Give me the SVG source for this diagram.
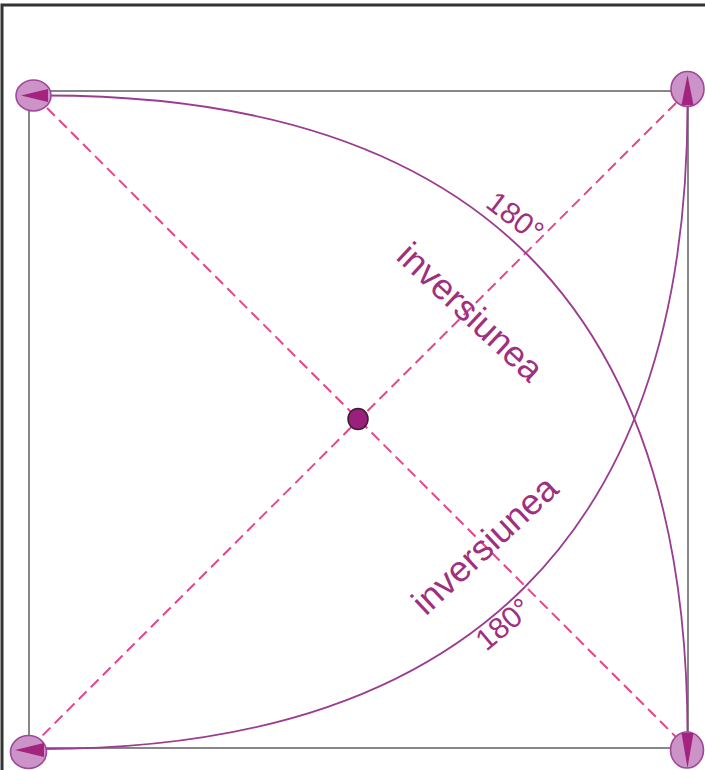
<svg xmlns="http://www.w3.org/2000/svg" width="705" height="770" viewBox="0 0 705 770">
<style>
.frame{fill:none;stroke:#333;stroke-width:3}
.sq{fill:none;stroke:#6a6a6a;stroke-width:1.6}
.dash{fill:none;stroke:#e2478a;stroke-width:2;stroke-dasharray:11 6}
.arc{fill:none;stroke:#9a3c8f;stroke-width:1.8}
.cir{fill:#cc93c8;stroke:#a0479a;stroke-width:1.6}
.tri{fill:#a4237f}
.lbl{font-family:"Liberation Sans",Arial,sans-serif;fill:#a0307f;text-anchor:middle}
</style>
<rect width="705" height="770" fill="#fff"/>
<path class="frame" d="M2,770 L2,5 L705,5"/>
<rect class="sq" x="29" y="91" width="659" height="657"/>
<g id="connectors">
<line class="dash" x1="47" y1="108" x2="676" y2="737"/>
<line class="dash" x1="676" y1="103" x2="41" y2="737"/>
<path class="arc" d="M46,95.5 C476,95.5 687.5,308 687.5,736"/>
<path class="arc" d="M42,749 C469,749 687.5,532 687.5,104"/>
</g>
<g id="corner-tl"><ellipse class="cir" cx="33.5" cy="95.5" rx="17.5" ry="15.5"/><polygon class="tri" points="21,95.5 48,89 48,102"/></g>
<g id="corner-tr"><ellipse class="cir" cx="687.5" cy="89" rx="16.5" ry="17.5"/><polygon class="tri" points="687.5,75 681.5,105 693.5,105"/></g>
<g id="corner-bl"><ellipse class="cir" cx="28.5" cy="752" rx="18" ry="16.5"/><polygon class="tri" points="15,750 44,743 44,757"/></g>
<g id="corner-br"><ellipse class="cir" cx="687" cy="750" rx="16.5" ry="18"/><polygon class="tri" points="687.5,768 681.5,733 693.5,733"/></g>
<g id="center"><ellipse cx="358" cy="419" rx="10" ry="10.5" fill="#9b1f7c" stroke="#3a2030" stroke-width="1.5"/></g>
<g id="labels">
<text class="lbl" font-size="30" transform="translate(509,225) rotate(37)">180°</text>
<text class="lbl" font-size="36" transform="translate(462,321) rotate(43)">inversiunea</text>
<text class="lbl" font-size="36" transform="translate(493,554) rotate(-43)">inversiunea</text>
<text class="lbl" font-size="30" transform="translate(510,632) rotate(-40)">180°</text>
</g>
</svg>
